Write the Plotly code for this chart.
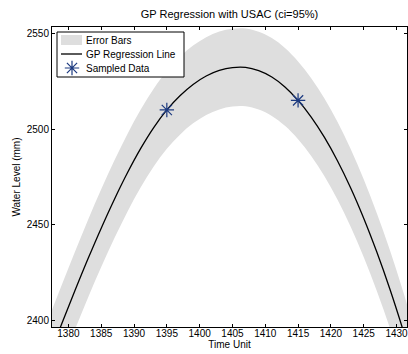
import plotly.graph_objects as go

# ---- data ----
x_grid = [1377, 1379, 1381, 1383, 1385, 1387, 1389, 1391, 1393, 1395, 1397, 1399,
          1401, 1403, 1405, 1407, 1409, 1411, 1413, 1415, 1417, 1419, 1421, 1423,
          1425, 1427, 1429, 1431, 1433]
gp_mean = [2381.0, 2398.5, 2415.7, 2432.4, 2448.3, 2463.3, 2477.2, 2489.8, 2500.8,
           2510.0, 2517.4, 2523.3, 2527.7, 2530.6, 2532.1, 2532.2, 2530.5, 2527.2,
           2522.0, 2515.0, 2506.3, 2495.8, 2483.5, 2469.4, 2453.5, 2435.8, 2416.4,
           2395.1, 2372.1]
ci_half = [20.3] * len(x_grid)
upper = [m + h for m, h in zip(gp_mean, ci_half)]
lower = [m - h for m, h in zip(gp_mean, ci_half)]

sample_x = [1395, 1415]
sample_y = [2510, 2515]

x_ticks = [1380, 1385, 1390, 1395, 1400, 1405, 1410, 1415, 1420, 1425, 1430]
y_ticks = [2400, 2450, 2500, 2550]

legend_labels = ["Error Bars", "GP Regression Line", "Sampled Data"]

BAND = "#dedede"
STAR = "#1c3a80"
FONT = "Liberation Sans"

fig = go.Figure()

fig.add_trace(go.Scatter(x=x_grid, y=upper, mode="lines", line=dict(width=0, shape="spline"),
                         hoverinfo="skip", showlegend=False))
fig.add_trace(go.Scatter(x=x_grid, y=lower, mode="lines", line=dict(width=0, shape="spline"),
                         fill="tonexty", fillcolor=BAND, hoverinfo="skip", showlegend=False))
fig.add_trace(go.Scatter(x=x_grid, y=gp_mean, mode="lines",
                         line=dict(color="black", width=1.3, shape="spline"), showlegend=False))
star_marker = dict(symbol="asterisk-open", size=12, color=STAR,
                   line=dict(color=STAR, width=1.2))
fig.add_trace(go.Scatter(x=sample_x, y=sample_y, mode="markers",
                         marker=star_marker, showlegend=False))

# ---- legend box drawn on a pixel-coordinate overlay axis ----
L, R, T, B = 57, 184, 32, 77
fig.add_trace(go.Scatter(x=[L, R, R, L, L], y=[T, T, B, B, T], xaxis="x2", yaxis="y2",
                         mode="lines", fill="toself", fillcolor="white",
                         line=dict(color="black", width=1), hoverinfo="skip", showlegend=False))
fig.add_trace(go.Scatter(x=[61, 82, 82, 61, 61], y=[35, 35, 45, 45, 35], xaxis="x2", yaxis="y2",
                         mode="lines", fill="toself", fillcolor=BAND,
                         line=dict(width=0), hoverinfo="skip", showlegend=False))
fig.add_trace(go.Scatter(x=[61, 82], y=[54, 54], xaxis="x2", yaxis="y2", mode="lines",
                         line=dict(color="black", width=1.3), hoverinfo="skip", showlegend=False))
fig.add_trace(go.Scatter(x=[72], y=[68], xaxis="x2", yaxis="y2", mode="markers",
                         marker=star_marker, hoverinfo="skip", showlegend=False))
for lab, yy in zip(legend_labels, [40, 54, 68]):
    fig.add_annotation(x=84, y=yy, xref="x2", yref="y2", text=lab, showarrow=False,
                       xanchor="left", yanchor="middle",
                       font=dict(family=FONT, size=10, color="black"))

axis_common = dict(showline=True, linecolor="black", linewidth=1, mirror="ticks",
                   ticks="inside", ticklen=3, tickcolor="black", tickwidth=1,
                   showgrid=False, zeroline=False, ticklabeloverflow="allow",
                   tickfont=dict(family=FONT, size=10, color="black"))

fig.update_layout(
    width=408, height=354,
    margin=dict(l=52, r=1, t=27, b=27),
    paper_bgcolor="white", plot_bgcolor="white",
    title=dict(text="GP Regression with USAC (ci=95%)", x=(52 + 407) / 2 / 408, xanchor="center",
               y=1 - 14 / 354, yanchor="middle",
               font=dict(family=FONT, size=11, color="black")),
    xaxis=dict(range=[1377.5, 1431.6], tickvals=x_ticks, ticklabelstandoff=-3, **axis_common,
               title=dict(text="Time Unit", standoff=0,
                          font=dict(family=FONT, size=10, color="black"))),
    yaxis=dict(range=[2396.7, 2553.3], tickvals=y_ticks, **axis_common,
               title=dict(text="Water Level (mm)", standoff=4,
                          font=dict(family=FONT, size=10, color="black"))),
    xaxis2=dict(overlaying="x", range=[52, 407], visible=False, fixedrange=True),
    yaxis2=dict(overlaying="y", range=[327, 27], visible=False, fixedrange=True),
    showlegend=False,
)

fig.write_html("out.html")
